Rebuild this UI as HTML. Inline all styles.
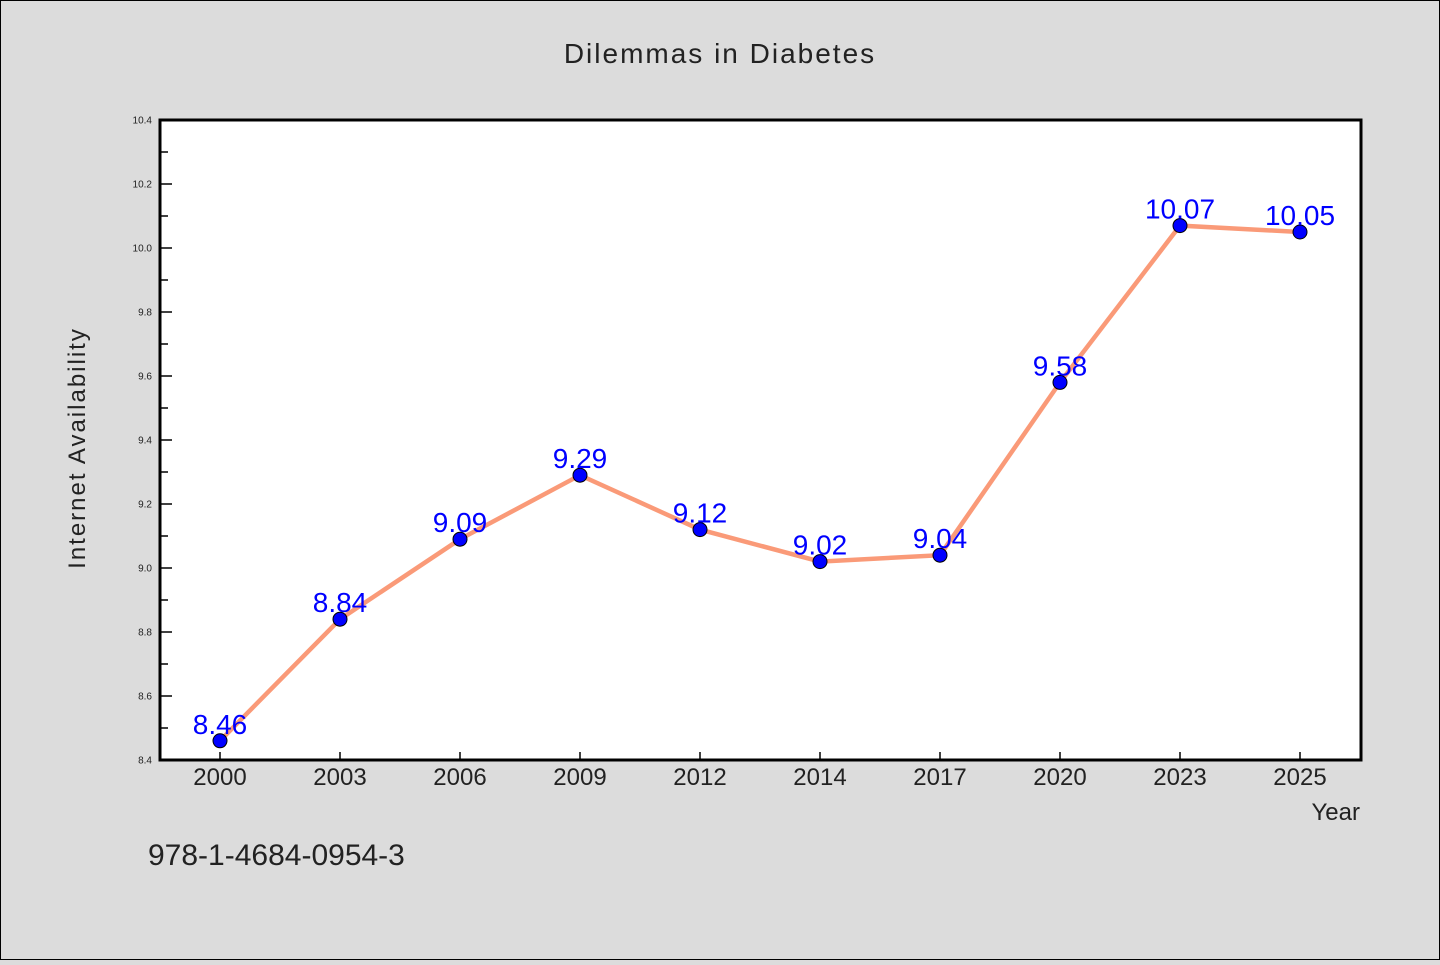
<!DOCTYPE html>
<html><head><meta charset="utf-8"><style>
body{margin:0;background:#dcdcdc;}
svg text{font-family:"WenQuanYi Zen Hei","Liberation Sans",sans-serif;}
</style></head><body>
<svg width="1440" height="960" xmlns="http://www.w3.org/2000/svg">
<rect x="0.5" y="0.5" width="1439" height="959" fill="#dcdcdc" stroke="#000"/>
<text x="720" y="63" text-anchor="middle" font-size="28" fill="#222" letter-spacing="2">Dilemmas in Diabetes</text>
<rect x="160" y="120" width="1201" height="640" fill="#fff"/>
<g id="axes"></g>
<g id="series"></g>
<rect x="160" y="120" width="1201" height="640" fill="none" stroke="#000" stroke-width="3"/>
<text transform="translate(85,448) rotate(-90)" text-anchor="middle" font-size="24" fill="#222" letter-spacing="2">Internet Availability</text>
<text x="1360" y="820" text-anchor="end" font-size="24" fill="#222">Year</text>
<text x="148" y="865" font-size="30" fill="#222">978-1-4684-0954-3</text>
</svg>
<script>
const categories=["2000","2003","2006","2009","2012","2014","2017","2020","2023","2025"];
const values=[8.46,8.84,9.09,9.29,9.12,9.02,9.04,9.58,10.07,10.05];
const valueLabels=["8.46","8.84","9.09","9.29","9.12","9.02","9.04","9.58","10.07","10.05"];
const yTicks=[8.4,8.6,8.8,9.0,9.2,9.4,9.6,9.8,10.0,10.2,10.4];
const yMin=8.4,yMax=10.4;
const NS="http://www.w3.org/2000/svg";
function xs(i){return 220+i*120;}
function ys(v){return 760-(v-yMin)/(yMax-yMin)*640;}
const axes=document.getElementById('axes'),ser=document.getElementById('series');
function mk(tag,attrs,parent){const e=document.createElementNS(NS,tag);for(const k in attrs)e.setAttribute(k,attrs[k]);parent.appendChild(e);return e;}
yTicks.forEach((t,i)=>{
  const y=ys(t);
  const l=mk('line',{x1:160,x2:172,y1:y,y2:y,stroke:'#000','stroke-width':1.5},axes);
  
  
  const tx=mk('text',{x:152,y:y+3.5,'text-anchor':'end','font-size':10,fill:'#222'},axes);
  tx.textContent=t.toFixed(1);
  
  
  if(i<yTicks.length-1){const ym=ys(t+0.1);
    const m=mk('line',{x1:160,x2:168,y1:ym,y2:ym,stroke:'#000','stroke-width':1.5},axes);
    
    }
});
categories.forEach((c,i)=>{
  const x=xs(i);
  const l=mk('line',{x1:x,x2:x,y1:760,y2:752,stroke:'#000','stroke-width':1.5},axes);
  
  
  const tx=mk('text',{x:x,y:785,'text-anchor':'middle','font-size':24,fill:'#222'},axes);
  tx.textContent=c;
  
  
});
const line=mk('polyline',{points:values.map((v,i)=>xs(i)+','+ys(v)).join(' '),fill:'none',stroke:'#fa9a78','stroke-width':4.5},ser);


values.forEach((v,i)=>{
  const c=mk('circle',{cx:xs(i),cy:ys(v),r:7,fill:'#0000ff',stroke:'#000','stroke-width':1},ser);
  
  
});
values.forEach((v,i)=>{
  const t=mk('text',{x:xs(i),y:ys(v)-7,'text-anchor':'middle','font-size':28,fill:'#0000ff'},ser);
  t.textContent=valueLabels[i];
  
  
});
</script>
</body></html>
